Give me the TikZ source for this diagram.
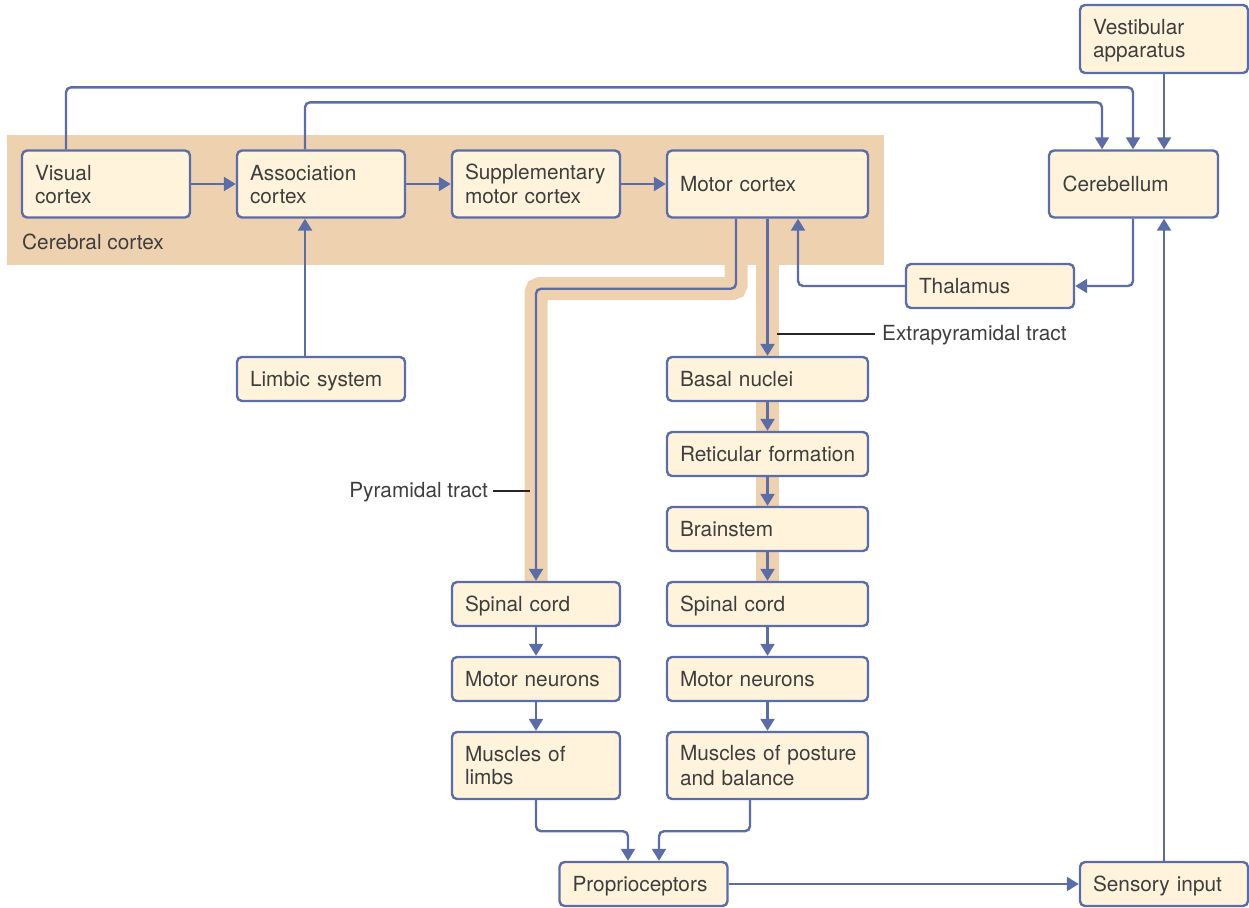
\documentclass[tikz,border=0pt]{standalone}
\usepackage{fontspec}
\setmainfont{TeX Gyre Heros}
\usetikzlibrary{arrows.meta,backgrounds}

\definecolor{cortexbg}{RGB}{238,210,176}
\definecolor{boxfill}{RGB}{255,243,220}
\definecolor{linkblue}{RGB}{91,109,168}
\definecolor{txtgray}{RGB}{62,62,62}

% first-line height / last-line depth so caps sit centred in a box
\newcommand\boxstrut{\rule[-4pt]{0pt}{23pt}}

\tikzset{
  box/.style={draw=linkblue, fill=boxfill, line width=2.4pt, rounded corners=5pt,
    inner xsep=13pt, inner ysep=0pt, align=left, text=txtgray,
    font={\fontsize{20.8}{23}\selectfont\hyphenpenalty=10000},
    execute at begin node=\boxstrut, execute at end node=\boxstrut},
  narrow/.style={minimum width=168pt, text width=142pt},
  wide/.style={minimum width=201pt, text width=175pt},
  one/.style={minimum height=44pt},
  two/.style={minimum height=67pt},
  link/.style={draw=linkblue, line width=2.4pt, rounded corners=5pt,
    -{Triangle[width=14pt,length=12pt]}},
  band/.style={draw=cortexbg, line width=23pt, rounded corners=4pt},
  lbl/.style={inner sep=0pt, text=txtgray, font={\fontsize{20.8}{23}\selectfont}},
  leader/.style={draw=black!85, line width=1.1pt},
}

\begin{document}
\begin{tikzpicture}[x=1pt, y=-1pt]
\useasboundingbox (0,0) rectangle (1249,907);

% cortical boxes
\node[box,narrow,two] (visual) at (106,184) {Visual\\cortex};
\node[box,narrow,two] (assoc)  at (321,184) {Association\\cortex};
\node[box,narrow,two] (supp)   at (536,184) {\mbox{Supplementary}\\\mbox{motor cortex}};
\node[box,wide,two]   (motor)  at (767.5,184) {Motor cortex};

% cerebellar loop
\node[box,narrow,two,minimum width=169pt] (cereb) at (1133.5,184) {Cerebellum};
\node[box,narrow,two,minimum height=68pt] (vest) at (1164,39) {Vestibular\\apparatus};
\node[box,narrow,one] (thal) at (990,286) {Thalamus};
\node[box,narrow,one] (limbic) at (321,379) {\mbox{Limbic system}};

% extrapyramidal chain
\node[box,wide,one] (basal) at (767.5,379) {Basal nuclei};
\node[box,wide,one] (retic) at (767.5,454) {\mbox{Reticular formation}};
\node[box,wide,one] (brain) at (767.5,529) {Brainstem};
\node[box,wide,one] (spinalR) at (767.5,604) {Spinal cord};
\node[box,wide,one] (mnR) at (767.5,679) {Motor neurons};
\node[box,wide,two] (musR) at (767.5,765.5) {\mbox{Muscles of posture}\\and balance};

% pyramidal chain
\node[box,narrow,one] (spinalL) at (536,604) {Spinal cord};
\node[box,narrow,one] (mnL) at (536,679) {\mbox{Motor neurons}};
\node[box,narrow,two] (musL) at (536,765.5) {Muscles of\\limbs};

% feedback
\node[box,narrow,one,minimum width=167pt] (prop) at (643.5,884) {\mbox{Proprioceptors}};
\node[box,narrow,one] (sens) at (1164,884) {\mbox{Sensory input}};

% labels
\node[lbl, anchor=base west] (cortexlbl) at (22,249) {Cerebral cortex};
\node[lbl, anchor=base west] (extra) at (882,340) {Extrapyramidal tract};
\node[lbl, anchor=base east] (pyra) at (488,497) {Pyramidal tract};

% cortex region and the two tracts behind the boxes
\begin{scope}[on background layer]
  \fill[cortexbg] (7,135) rectangle (884,265);
  \draw[band] ([xshift=-31.5pt]motor.south) -- ++(0,70) -| (spinalL.north);
  \draw[band] (motor.south) -- (spinalR.north);
\end{scope}

% leader lines
\coordinate (extraend) at (777,334);
\coordinate (pyraend) at (530,491);
\draw[leader] (extraend) -- ([xshift=-7pt]extra.west |- extraend);
\draw[leader] ([xshift=5pt]pyra.east |- pyraend) -- (pyraend);

% cortical connections
\draw[link] (visual) -- (assoc);
\draw[link] (assoc) -- (supp);
\draw[link] (supp) -- (motor);
\draw[link] ([xshift=-16pt]limbic.north) -- ([xshift=-16pt]assoc.south);

% to the cerebellum
\draw[link] ([xshift=-40pt]visual.north) -- ++(0,-62) -| ([xshift=-0.5pt]cereb.north);
\draw[link] ([xshift=-16pt]assoc.north) -- ++(0,-47) -| ([xshift=-31.5pt]cereb.north);
\draw[link] (vest.south) -- (vest.south |- cereb.north);
\draw[link] ([xshift=-0.5pt]cereb.south) |- (thal.east);
\draw[link] (thal.west) -| ([xshift=30.5pt]motor.south);

% descending tracts
\draw[link] ([xshift=-31.5pt]motor.south) -- ++(0,70) -| (spinalL.north);
\draw[link] (motor.south) -- (basal.north);
\draw[link] (basal) -- (retic);
\draw[link] (retic) -- (brain);
\draw[link] (brain) -- (spinalR);
\draw[link] (spinalR) -- (mnR);
\draw[link] (mnR) -- (musR);
\draw[link] (spinalL) -- (mnL);
\draw[link] (mnL) -- (musL);

% proprioceptive feedback
\draw[link] (musL.south) -- ++(0,31) -| ([xshift=-15.5pt]prop.north);
\draw[link] ([xshift=-17.5pt]musR.south) -- ++(0,31) -| ([xshift=15.5pt]prop.north);
\draw[link] (prop) -- (sens);
\draw[link] (sens.north) -- (sens.north |- cereb.south);
\end{tikzpicture}
\end{document}
